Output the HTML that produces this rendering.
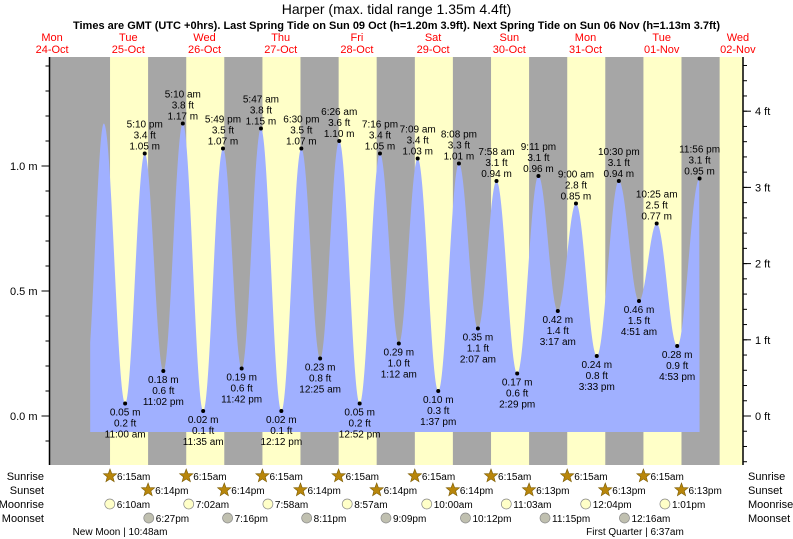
<!DOCTYPE html>
<html><head><meta charset="utf-8"><style>
body{margin:0;background:#fff;}
svg{display:block;font-family:"Liberation Sans",sans-serif;}
</style></head><body>
<svg id="c" width="793" height="539"></svg>
<script>
const days=["24-Oct","25-Oct","26-Oct","27-Oct","28-Oct","29-Oct","30-Oct","31-Oct","01-Nov","02-Nov"];
const dayNames=["Mon","Tue","Wed","Thu","Fri","Sat","Sun","Mon","Tue","Wed"];
const tideDay=[0,1,1,1,1,2,2,2,2,3,3,3,3,4,4,4,4,5,5,5,5,6,6,6,6,7,7,7,7,8,8,8,8];
const tideHour=[22.6,4.3,11.0,17.17,23.03,5.17,11.58,17.82,23.7,5.78,12.2,18.5,24.42,6.43,12.87,19.27,25.2,7.15,13.62,20.13,26.12,7.97,14.48,21.18,27.28,9.0,15.55,22.5,28.85,10.42,16.88,23.93,99];
const tideM=[0.15,1.17,0.05,1.05,0.18,1.17,0.02,1.07,0.19,1.15,0.02,1.07,0.23,1.10,0.05,1.05,0.29,1.03,0.10,1.01,0.35,0.94,0.17,0.96,0.42,0.85,0.24,0.94,0.46,0.77,0.28,0.95];
const tideFt=["","","0.2","3.4","0.6","3.8","0.1","3.5","0.6","3.8","0.1","3.5","0.8","3.6","0.2","3.4","1.0","3.4","0.3","3.3","1.1","3.1","0.6","3.1","1.4","2.8","0.8","3.1","1.5","2.5","0.9","3.1"];
const tideTime=["","","11:00 am","5:10 pm","11:02 pm","5:10 am","11:35 am","5:49 pm","11:42 pm","5:47 am","12:12 pm","6:30 pm","12:25 am","6:26 am","12:52 pm","7:16 pm","1:12 am","7:09 am","1:37 pm","8:08 pm","2:07 am","7:58 am","2:29 pm","9:11 pm","3:17 am","9:00 am","3:33 pm","10:30 pm","4:51 am","10:25 am","4:53 pm","11:56 pm"];
const sunrise=["6:15am","6:15am","6:15am","6:15am","6:15am","6:15am","6:15am","6:15am"];
const sunset=["6:14pm","6:14pm","6:14pm","6:14pm","6:14pm","6:13pm","6:13pm","6:13pm"];
const moonriseDay=[1,2,3,4,5,6,7,8];
const moonriseHour=[6.17,7.03,7.97,8.95,10.0,11.05,12.07,13.02];
const moonriseLbl=["6:10am","7:02am","7:58am","8:57am","10:00am","11:03am","12:04pm","1:01pm"];
const moonsetDay=[1,2,3,4,5,6,8];
const moonsetHour=[18.45,19.27,20.18,21.15,22.2,23.25,0.27];
const moonsetLbl=["6:27pm","7:16pm","8:11pm","9:09pm","10:12pm","11:15pm","12:16am"];
const yTicksM=[0.0,0.5,1.0];
const yTicksFt=[0,1,2,3,4];

const S=document.getElementById('c');const NS="http://www.w3.org/2000/svg";
function el(t,a,p){const e=document.createElementNS(NS,t);for(const k in a)e.setAttribute(k,a[k]);(p||S).appendChild(e);return e;}
function tx(x,y,s,a,p){const e=el('text',Object.assign({x:x,y:y,'font-size':11,fill:'#000','text-anchor':'middle'},a||{}),p);e.textContent=s;return e;}
const X0=14,DW=76.2,L=49.5,R=743,T=57,B=465;
function xOf(d,h){return X0+(d+h/24)*DW;}
function yM(m){return 416-m*250;}
function yFt(f){return 416-f*0.3048*250;}

const bg=el('rect',{x:L,y:T,width:R-L,height:B-T,fill:'#a6a6a6'});


for(let d=1;d<=9;d++){
  const x1=xOf(d,6.25),x2=Math.min(R,xOf(d,18.23));
  const r=el('rect',{x:x1,y:T,width:x2-x1,height:B-T,fill:'#ffffc8'});
  
  
}
const xs=tideDay.map((d,i)=>xOf(d,tideHour[i]));
let pts=[];const xStart=xOf(1,0),xEnd=xs[31];
for(let x=xStart;x<=xEnd+0.01;x+=0.5){
  let i=0;while(i<31&&xs[i+1]<x)i++;
  const t=(x-xs[i])/(xs[i+1]-xs[i]);
  const v=tideM[i]+(tideM[i+1]-tideM[i])*(1-Math.cos(Math.PI*t))/2;
  pts.push([x,yM(v)]);
}
const yb=432;
let dstr=`M${xStart},${yb} `+pts.map(p=>`L${p[0].toFixed(1)},${p[1].toFixed(1)}`).join(' ')+` L${xEnd},${yb} Z`;
const area=el('path',{d:dstr,fill:'#a0b0ff'});


for(let i=2;i<32;i++){
  const x=xs[i],y=yM(tideM[i]);const high=tideM[i]>tideM[i-1];
  const dot=el('circle',{cx:x,cy:y,r:2,fill:'#000'});
  
  
  const g=el('g',{'font-size':10});
  
  
  const m=tideM[i].toFixed(2)+' m';
  if(high){tx(x,y-26,tideTime[i],{'font-size':10},g);tx(x,y-15,tideFt[i]+' ft',{'font-size':10},g);tx(x,y-4,m,{'font-size':10},g);}
  else{tx(x,y+12,m,{'font-size':10},g);tx(x,y+23,tideFt[i]+' ft',{'font-size':10},g);tx(x,y+34,tideTime[i],{'font-size':10},g);}
}
const ax=el('g',{stroke:'#000'});


el('line',{x1:L,y1:T,x2:L,y2:B,'stroke-width':1.5},ax);
el('line',{x1:R,y1:T,x2:R,y2:B,'stroke-width':1.5},ax);
for(let m=-0.1;m<=1.41;m+=0.1){const y=yM(m);if(y<T||y>B)continue;el('line',{x1:L-4,y1:y,x2:L,y2:y},ax);}
for(let f=-0.6;f<=4.61;f+=0.2){const y=yFt(f);if(y<T||y>B)continue;el('line',{x1:R,y1:y,x2:R+4,y2:y},ax);}
yTicksM.forEach(m=>{el('line',{x1:L-8,y1:yM(m),x2:L,y2:yM(m)},ax);const t=tx(L-12,yM(m)+4,m.toFixed(1)+' m',{'text-anchor':'end','font-size':11});});
yTicksFt.forEach(f=>{el('line',{x1:R,y1:yFt(f),x2:R+8,y2:yFt(f)},ax);const t=tx(R+12,yFt(f)+4,f+' ft',{'text-anchor':'start','font-size':11});});
const tt=tx(396.5,14,'Harper (max. tidal range 1.35m 4.4ft)',{'font-size':14});

const st=tx(396.5,29,'Times are GMT (UTC +0hrs). Last Spring Tide on Sun 09 Oct (h=1.20m 3.9ft). Next Spring Tide on Sun 06 Nov (h=1.13m 3.7ft)',{'font-size':11,'font-weight':'bold'});

days.forEach((d,i)=>{const x=xOf(i,12);const g=el('g',{});
  
  tx(x,41,dayNames[i],{fill:'#ff0000','font-size':11},g);tx(x,53,d,{fill:'#ff0000','font-size':11},g);});
[['Sunrise',480],['Sunset',494],['Moonrise',508],['Moonset',522]].forEach(r=>{
  const a=tx(44,r[1],r[0],{'text-anchor':'end','font-size':11});
  const b=tx(748,r[1],r[0],{'text-anchor':'start','font-size':11});
});
function star(cx,cy){const p=[];for(let k=0;k<10;k++){const rr=k%2?3:7,a=-Math.PI/2+k*Math.PI/5;p.push((cx+rr*Math.cos(a)).toFixed(1)+','+(cy+rr*Math.sin(a)).toFixed(1));}return el('polygon',{points:p.join(' '),fill:'#b8860b',stroke:'#7a5a00','stroke-width':0.6});}
sunrise.forEach((s,i)=>{const x=xOf(i+1,6.25);const st=star(x,476);const t=tx(x+7,480,s,{'text-anchor':'start','font-size':10});});
sunset.forEach((s,i)=>{const x=xOf(i+1,18.23);const st=star(x,490);const t=tx(x+7,494,s,{'text-anchor':'start','font-size':10});});
moonriseLbl.forEach((s,i)=>{const x=xOf(moonriseDay[i],moonriseHour[i]);const c=el('circle',{cx:x,cy:504,r:5,fill:'#ffffc8',stroke:'#888','stroke-width':0.7});const t=tx(x+7,508,s,{'text-anchor':'start','font-size':10});});
moonsetLbl.forEach((s,i)=>{const x=xOf(moonsetDay[i],moonsetHour[i]);const c=el('circle',{cx:x,cy:518,r:5,fill:'#c0c0b0',stroke:'#888','stroke-width':0.7});const t=tx(x+7,522,s,{'text-anchor':'start','font-size':10});});
const p1=tx(120,535,'New Moon | 10:48am',{'font-size':10});
const p2=tx(635,535,'First Quarter | 6:37am',{'font-size':10});
</script>
</body></html>
